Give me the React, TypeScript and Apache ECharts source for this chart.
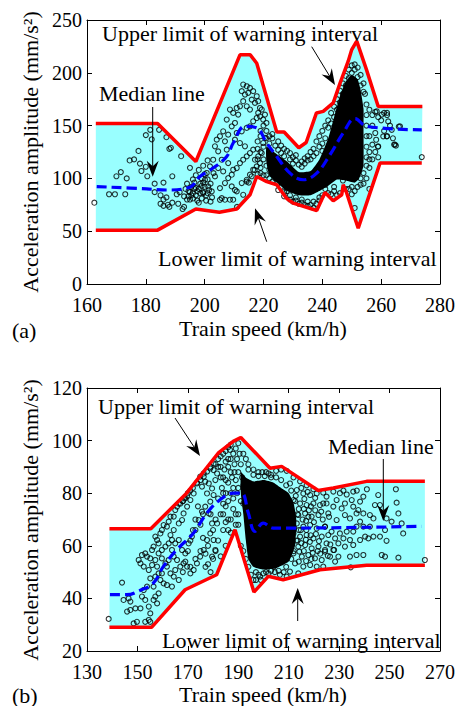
import React, { useEffect, useRef } from "react";
import * as echarts from "echarts";

// ---------- Panel (a) ----------
const xTicksA = [160, 180, 200, 220, 240, 260, 280];
const yTicksA = [0, 50, 100, 150, 200, 250];
const upperA: number[][] = [[163,152],[184,152],[197,116],[212,217],[215.5,217],[217.7,209],[224.5,144],[227,144],[232,129],[234.5,134],[238,162],[240.3,163.5],[243.7,171.5],[246,190],[248.8,211],[250,222],[251.7,230],[255,203],[259,168],[274,168]];
const lowerA: number[][] = [[163,51],[184,51],[197,71],[205,68],[210.9,71],[215.4,84.5],[217.7,101.8],[221.1,97],[224.5,94],[227.9,81],[230.1,76.6],[238.1,69.6],[240.9,86.7],[243.7,78.8],[246.6,84.5],[247.1,94],[248.3,86],[250.5,67],[252.2,52.9],[259.6,114.5],[273.8,114.5]];
const medianA: number[][] = [[163.3,92.3],[180.3,90],[187,89],[195,91.7],[198.4,101.8],[203,110],[207.5,120.8],[209.7,133.5],[213.7,149.3],[217.7,147.8],[221.1,133.5],[224.5,120.8],[229,105],[233.5,98.7],[238.1,105],[242.6,122.4],[247.1,143],[251.1,156.6],[255.1,149.3],[273.8,146]];
const coreA: number[][] = [[221,130],[224,124],[228,116],[232,106],[236,107],[239,118],[242,138],[244,158],[246,178],[248,192],[250,198],[252,194],[253,184],[254,166],[254,148],[254,112],[252.5,100],[251,96],[248,98],[245,99],[242,93],[239,88],[236,84],[232,84],[228,88],[225,95],[222,103],[221,115]];
const pointsA: number[][] = [
[162.5,77],[167.5,85],[169.5,85],[173,85],[170,102],[171.5,106],[173.5,100],[174.5,117],[176,118],[177.5,126],[178,114],[178.5,107],[180,111],[180.5,102],[181.5,146],[180,141],[182,137],[184.5,146],[187,139],[188,128],[188.5,129],[183,95],[183,87],[186,96],[185,84],[186,80],[185,76],[186,74],[187.5,75],[187,82],[189,102],[190.5,85],[191.5,87],[193,83],[194,80],[193,73],[192.5,71],[192,121],[195,110],[188,73],[189,77],[191,76],
[194.5,88],[195.5,92],[196,86],[197,84],[198,90],[198.5,95],[199,81],[199.5,87],[200,92],[200.5,84],[201,99],[196.5,96],[197.5,79],[195,80],[198,77],[199,100],[200,104],[201.5,89],[196,99],[197,103],[198,108],[199.5,112],[201,117],[202,95],[202.5,82],[203,105],[194,95],[193.5,90],[195.5,84],[197,91],[199,93],[200.5,79],[196,81],[198.5,86],[197.5,88],[196.5,90],[195,87],[199.5,96],[201,86],[202,78],[194.5,83],
[213.1,188.9],[214.3,187.3],[215.4,185.7],[214.8,181],[213.7,179.4],[216.5,182.6],[217.7,177.8],[216,174.6],[212.6,182.6],[217.1,171.5],[218.2,173.1],[218.8,166.7],[213.1,173.1],[212,168.3],[214.3,168.3],[215.4,165.2],[210.9,166.7],[209.7,162],[208.6,165.2],[211.4,160.4],[210.3,152.5],[209.2,149.3],[207.5,155.7],[206.3,144.6],[205.2,139.9],[204.1,136.7],[206.9,135.1],[208,141.4],[203.5,130.4],[204.6,125.6],[205.8,117.7],[202.9,117.7],[201.8,111.4],[200.7,105.1],[200.1,98.7],[201.2,92.4],[199.5,86.1],[202.4,87.7],[205.2,90.8],[206.9,95.6],[208,100.3],[209.2,103.5],[209.7,108.2],[210.9,109.8],[212,114.5],[213.1,117.7],[214.3,120.9],[215.4,124],[216.5,127.2],[213.7,130.4],[212,133.5],[210.3,136.7],[210.9,143],[212.6,144.6],[214.3,147.8],[215.4,149.3],[216.5,154.1],[217.7,157.2],[218.8,158.8],[219.9,155.7],[221,152.5],[218.2,162],[219.4,165.2],[220.5,160.4],[205.8,81.3],[208.6,79.8],[209.2,92.4],[210.9,87.7],[212.6,95.6],[214.3,98.7],[215.4,103.5],[216.5,108.2],[217.7,111.4],[218.8,114.5],[217.1,117.7],[218.2,120.9],[219.4,124],[219.9,133.5],[220.5,138.3],[207.5,127.2],[206.3,106.6],[208,114.5],[203.5,101.9],[204.6,109.8],[206.9,79.8],[209.7,79.8],[213.1,84.5],[214.3,97],[215,96],[211,73],[205.2,79.7],[210.3,89],
[221,145],[222,140],[223,138],[225,135],[226,131],[227,128],[229,124],[230,120],[231,117],[233,116],[234,119],[235,121],[236,125],[237,128],[238,135],[239,140],[240,145],[241,150],[242,155],[243,162],[244,168],[245,175],[246,183],[247,190],[248,197],[249,203],[250,207],[251,208],[252,205],[253,198],[254,190],[254.5,180],[255,170],[256,165],[257,160],[258,163],[259,158],[260,155],[261,162],[262,160],[263,150],[261,145],[262,140],[264,138],[265,131],[266,149],[257,150],[258,143],[256,140],[257,132],[258,125],[257,118],[259,120],[256,110],[255,100],[256,90],[254,95],[253,100],[252,92],[251,72],[250,85],[249,90],[246,86],[245,84],[244,88],[243,85],[242,86],[241,90],[240,84],[239,82],[238,76],[237,72],[236,75],[235,78],[234,75],[233,80],[232,76],[231,82],[230,78],[229,84],[228,88],[227,87],[226,92],[225,96],[224,100],[223,104],[222,108],[221,112],[220,118],[219,125],[220,130],[218,135],[219,140],
[219,145],[220,150],[221,138],[222,133],[223,142],[224,131],[225,127],[226,124],[227,121],[228,126],[229,118],[230,114],[231,122],[232,113],[233,111],[234,114],[235,117],[236,118],[237,121],[238,124],[239,130],[240,133],[241,138],[240,126],[242,148],[243,152],[244,158],[245,165],[246,172],[247,180],[248,188],[249,195],[250,200],[251,203],[252,196],[253,188],[254,182],[255,160],[255,150],[255,140],[255,130],[255,120],[256,125],[256,118],[255,112],[254,105],[253,94],[251,88],[250,92],[248,90],[247,98],[244,92],[241,94],[239,79],[237,78],[235,74],[233,77],[231,79],[229,80],[227,83],[225,89],[223,97],[221,103],[219,110],[218,118],[218,128],[219,105],[220,103],[222,100],[218,104],[217,108],[216,102],
[258.5,163.5],[260.2,160.4],[262,162],[262.4,154],[263.6,146],[264.4,132],[266.4,149.3],[259,130.3],[258.3,136.6],[260.7,139.8],[261.9,139.8],[273.8,120.2],[264.7,132],[258.9,130]
];

// ---------- Panel (b) ----------
const xTicksB = [130, 150, 170, 190, 210, 230, 250, 270];
const yTicksB = [20, 40, 60, 80, 100, 120];
const upperB: number[][] = [[138.9,66.5],[155.3,66.5],[169.5,80],[182,95.2],[188,99.7],[191,101.2],[202.6,89.5],[207.2,90.2],[221.7,81],[227.7,82],[240.9,84.5],[264,84.5]];
const lowerB: number[][] = [[138.9,29],[155.6,29],[168.9,43.3],[181.4,49],[188.7,66.1],[196.2,42.4],[201.9,48.4],[207.8,47.1],[222.4,50.9],[240.9,52.6],[264,52.6]];
const medianB: number[][] = [[139.1,41.4],[145.7,41.4],[151,43],[156.3,45.8],[160.3,52.2],[165.6,58.5],[172.2,64.8],[177.5,72.4],[182.8,77.5],[188,80],[191.3,80],[194,72.4],[196.6,65.5],[199.9,68.6],[203.9,66.7],[262.7,67.4]];
const coreB: number[][] = [[191,88],[193,86],[196,84.5],[200,85],[204,84],[207,82],[210,80],[212,76],[213,70],[212.5,60],[210,54],[205,51.5],[200,51],[196,52],[194,55],[193,62],[192,72],[191,80]];
const pointsB: number[][] = [
[138.6,32.2],[143.9,46],[144.5,39.4],[146.5,40],[147.2,38.8],[145.9,35],[147.2,35.6],[149.2,36.2],[149.8,31.1],[148.5,30.5],[151.2,36.2],[151.8,40.7],[152.5,43.2],[153.8,44.5],[153.1,39.4],[154.5,36.9],[155.1,34.3],[154.5,31.8],[153.1,31.1],[155.1,31.1],[156.4,39.4],[157.1,40.7],[157.8,38.1],[158.4,41.9],[156.4,44.5],[159.1,47],[159.7,49.5],[160.4,45.7],[158.4,49.5],[157.1,48.3],[155.1,47.6],[154.5,50.8],[152.5,52.1],[151.2,53.3],[150.5,54.6],[151.8,56.5],[153.1,57.1],[153.8,55.9],[155.1,55.2],[155.8,58.4],[156.4,59.7],[157.8,62.2],[157.1,63.5],[158.4,60.9],[159.1,64.7],[159.7,66],[160.4,67.9],[161.7,67.3],[162.4,69.2],[163.1,71.1],[164.4,71.1],[165,73.6],[165.7,74.9],[166.4,76],
[167,76],[168,77],[169,78],[170,80],[171,81],[172,82],[173.6,84],[175,85],[176.3,86.3],[176.9,84.4],[175.6,82.5],[177.6,79.9],[178.9,76.8],[180.2,79.3],[179.6,81.8],[178.3,83.7],[180.9,85],[181.6,87.5],[180.2,88.8],[177.6,88.2],[179,90],[181,91],[182,93],[183,94],[184,95],[185,96],[186,97.5],[187,98.5],[174.9,86.3],[176.3,87.5],[178.9,89.4],[180.2,91.3],[169.7,79],[168.6,78],[168.1,77],
[173.6,83.7],[172.3,79.9],[171,77.4],[169.7,74.9],[168.3,72.3],[167.7,69.8],[166.4,68.5],[164.4,66],[163.1,64.1],[163.7,62.2],[165,60.9],[166.4,62.2],[167.7,58.4],[169,57.1],[170.3,60.9],[171.6,63.5],[173,66],[174.3,69.8],[175.6,73],[176.9,74.9],[178.3,72.3],[179.6,68.5],[178.9,64.7],[177.6,62.2],[176.3,58.4],[174.9,55.9],[173.6,53.3],[172.3,50.8],[171,49.5],[169.7,52.1],[168.3,53.3],[167,52.1],[165.7,54.6],[164.4,55.9],[162.4,54.6],[161.1,53.3],[159.7,55.2],[161.7,52.1],[163.1,49.5],[164.4,48.3],[165,50.8],[166.4,47],[163.7,44.5],[161.7,45.1],[161.1,59.7],[162.4,60.9],[163.7,58.4],[159.7,58.4],[158.4,57.1],[157.1,54.6],[155.8,52.7],[157.8,52.1],[180.2,62.2],[180.9,58.4],[179.6,55.9],[181.6,68.5],
[182,90],[183,86],[184,80],[185,75],[186,70],[187,65],[183,72],[184,66],[185,60],[182,62],[181,58],[180,55],[183,56],[186,93],[187,88],[188,82],[185,85],[182,78],[181,70],[180,66],[179,72],[178,60],[177,57],[176,63],[175,68],[176,72],[174,75],[173,70],[172,66],[171,62],[170,58],[169,54],[168,50],[171,52],[173,55],[175,58],[177,52],[179,50],[178,53],[189,72],[190,68],[191,60],[192,58],[193,55],[186.7,96.5],[184.5,89],[183.5,82],[188.5,88],
[186,90],[187,93],[188,95],[189,97],[190,99],[189.5,93],[190.5,95],[191,91],[188.5,91],[187.5,86],[189,85],[190,88],[191.5,86],[192,83],[190,82],[188,78],[189.5,80],[186,84],[185,80],[184,86],[183,90],[185,92],[184,76],[186,77],[187,80],[188,74],[187,70],[186,66],[185,69],[184,72],[189,68],[190,72],[191,77],[192,76],
[194,52],[195,49],[196,47],[197,50],[198,49],[200,49.5],[201,50],[203,50.5],[204,52],[206,50.5],[208,50],[209,52],[211,55],[212,58],[213.5,62],[214,66],[213.5,72],[212.5,77],[211,81],[209,83],[207,85],[205,86],[203,87],[201,88],[198,88],[196,89],[194,91],[193,93],[192,95],
[197,47],[199,47],[202,49.5],[204.5,50],[206.5,49],[199.5,88],[202,87.5],[205,88.5],[207,89],[203,86],[196,87],[194,89],[198,86.5],[209.2,88.5],[200.5,86.5],
[211.9,86],[214.5,84.5],[217.1,83],[219.8,81.5],[210.5,83.7],[213.2,81.2],[215.8,79.9],[218.5,79.3],[221.1,79.9],[223.7,80.2],[211.9,77.4],[214.5,76.1],[217.1,75.5],[219.8,76.1],[222.4,75.5],[225,76.1],[211.2,73],[213.8,71.7],[216.5,72.3],[219.1,71.1],[221.8,71.7],[210.5,69.2],[213.2,68.5],[215.8,67.3],[218.5,67.9],[221.1,66.6],[224.4,67.3],[211.9,64.7],[214.5,63.5],[217.1,64.1],[219.8,62.8],[223.1,63.5],[225.7,64.1],[211.2,60.9],[213.8,59.7],[216.5,60.3],[219.1,59],[221.8,59.7],[224.4,58.4],[211.9,57.1],[215.2,55.9],[217.8,56.5],[220.4,55.2],[223.1,54.6],[212.5,53.3],[215.8,52.1],[218.5,52.7],[221.1,52.1],[210.5,50.2],[213.8,49.5],[209.2,48.3],[198.6,48.3],[223.7,52.1],
[212.8,79],[216.2,77.8],[220.5,78.2],[214,74],[218,73.5],[222.9,73],[226,71],[212.2,66.8],[216.9,69.5],[220,69],[223.5,70],[213,62],[218.4,61.5],[222,61.8],[226.5,60.5],[214.2,57.8],[219.5,57.3],[225.5,56.2],[216.9,54.2],[222.5,57],[228,58.4],
[215,82],[216,74],[215.5,70],[217,66],[215,61],[216,58],[214,54],[217.5,80.5],[218.8,75],[217.8,71],[218.7,64],[219,55],[220.5,73.5],[220.8,64.5],[221.5,58],[214.8,66],[216.8,62.3],
[252.5,81.5],[245.5,79.3],[252.8,76.4],[244.2,75.5],[253.5,72.3],[254.8,68.5],[255.4,64.7],[248.8,61.9],[248.2,66],[246.2,63.5],[243.6,63.5],[241.6,62.8],[240.3,63.5],[239.6,78.7],[238.3,76.8],[235.6,80.6],[235,77.4],[231.7,81],[230.3,80],[227.7,80.6],[232.3,76.1],[235.6,74.9],[237.6,73.6],[239.6,72.3],[242.2,71.7],[243.6,70.4],[242.2,67.3],[239.6,67.3],[238.3,69.2],[236.9,67.3],[235.6,65.4],[233,65.4],[230.3,64.7],[234.3,62.2],[235.6,60.3],[232.3,59.7],[229.7,60.9],[227.7,58.4],[226.4,55.9],[229.7,55.9],[234.3,55.9],[236.9,56.5],[239.6,56.5],[246.9,56.5],[248.2,55.9],[253.5,55.5],[264,54.6],[234.6,51.8],[225,60.9],[224.4,67.3],[225.7,72.3],[223.7,76.1],[225,78.7],[229,77.4],[232.3,71.7],[234.3,70.4],[229,69.8],[227.7,74.9],[231,74.2],[236.9,72.3],[248.8,70.4],[246.2,75.5],[250.8,69.2],[227,65.4],[228.4,62.8],[231.7,62.8],[238.3,62.2],[224.4,57.8],[228.4,54],[241,81.5],[237,81],[233,79.5]
];

const FAMILY = "Liberation Serif";

function bandSeries(xi: number, upper: number[][], lower: number[][], fill: string, z: number) {
  const poly = upper.concat(lower.slice().reverse());
  return {
    type: "custom", xAxisIndex: xi, yAxisIndex: xi, z, silent: true,
    data: [poly[0]],
    renderItem: (params: any, api: any) => ({
      type: "polygon",
      shape: { points: poly.map((p) => api.coord(p)) },
      style: { fill },
    }),
  };
}

function polySeries(xi: number, poly: number[][], fill: string, z: number) {
  return {
    type: "custom", xAxisIndex: xi, yAxisIndex: xi, z, silent: true,
    data: [poly[0]],
    renderItem: (params: any, api: any) => ({
      type: "polygon",
      shape: { points: poly.map((p) => api.coord(p)), smooth: 0.15 },
      style: { fill },
    }),
  };
}

function arrow(x1: number, y1: number, x2: number, y2: number, len = 16, half = 6) {
  const dx = x2 - x1, dy = y2 - y1, L = Math.hypot(dx, dy);
  const ux = dx / L, uy = dy / L, px = -uy, py = ux;
  const bx = x2 - ux * len, by = y2 - uy * len;
  const nx = x2 - ux * len * 0.65, ny = y2 - uy * len * 0.65;
  return [
    { type: "line", z: 100, shape: { x1, y1, x2: nx, y2: ny }, style: { stroke: "#000", lineWidth: 1 } },
    { type: "polygon", z: 100, shape: { points: [[x2, y2], [bx + px * half, by + py * half], [nx, ny], [bx - px * half, by - py * half]] }, style: { fill: "#000" } },
  ];
}

function txt(text: string, x: number, y: number, align = "left", rotation = 0, size = 22) {
  return { type: "text", z: 100, x, y, rotation, style: { text, font: `${size}px "${FAMILY}", serif`, fill: "#000", align, verticalAlign: "middle" } };
}

function axisBase(min: number, max: number, interval: number, gridIndex: number, position: string, labels: boolean) {
  return {
    type: "value", gridIndex, min, max, interval, position,
    axisLine: { show: true, onZero: false, lineStyle: { color: "#000", width: 1 } },
    axisTick: { show: true, inside: true, length: 5, lineStyle: { color: "#000", width: 1 } },
    axisLabel: { show: labels, color: "#000", fontFamily: FAMILY, fontSize: 20, lineHeight: 20, margin: position === "bottom" ? 11 : 5 },
    splitLine: { show: false },
  };
}

export default function App() {
  const ref = useRef<HTMLDivElement>(null);
  useEffect(() => {
    document.body.style.margin = "0";
    const chart = echarts.init(ref.current!, null, { renderer: "svg" });
    const scatterStyle = { color: "rgba(0,0,0,0)", borderColor: "#000", borderWidth: 1.1 };
    const redLine = { color: "#ff0000", width: 3.5 };
    const blueLine = { color: "#0000ff", width: 3.2, type: [10, 5] };
    chart.setOption({
      animation: false,
      backgroundColor: "#fff",
      grid: [
        { left: 87, top: 20, width: 353, height: 264, containLabel: false },
        { left: 87, top: 388, width: 353, height: 263, containLabel: false },
      ],
      xAxis: [
        axisBase(xTicksA[0], xTicksA[xTicksA.length - 1], 20, 0, "bottom", true),
        axisBase(xTicksA[0], xTicksA[xTicksA.length - 1], 20, 0, "top", false),
        axisBase(xTicksB[0], xTicksB[xTicksB.length - 1], 20, 1, "bottom", true),
        axisBase(xTicksB[0], xTicksB[xTicksB.length - 1], 20, 1, "top", false),
      ],
      yAxis: [
        axisBase(yTicksA[0], yTicksA[yTicksA.length - 1], 50, 0, "left", true),
        axisBase(yTicksA[0], yTicksA[yTicksA.length - 1], 50, 0, "right", false),
        axisBase(yTicksB[0], yTicksB[yTicksB.length - 1], 20, 1, "left", true),
        axisBase(yTicksB[0], yTicksB[yTicksB.length - 1], 20, 1, "right", false),
      ],
      series: [
        bandSeries(0, upperA, lowerA, "#99ffff", 1),
        { type: "scatter", xAxisIndex: 0, yAxisIndex: 0, z: 2, symbol: "circle", symbolSize: 5, itemStyle: scatterStyle, data: pointsA, silent: true },
        polySeries(0, coreA, "#000", 3),
        { type: "line", xAxisIndex: 0, yAxisIndex: 0, z: 4, data: medianA, symbol: "none", smooth: 0.4, lineStyle: blueLine, silent: true },
        { type: "line", xAxisIndex: 0, yAxisIndex: 0, z: 5, data: upperA, symbol: "none", lineStyle: redLine, silent: true },
        { type: "line", xAxisIndex: 0, yAxisIndex: 0, z: 5, data: lowerA, symbol: "none", lineStyle: redLine, silent: true },

        bandSeries(2, upperB, lowerB, "#99ffff", 1),
        { type: "scatter", xAxisIndex: 2, yAxisIndex: 2, z: 2, symbol: "circle", symbolSize: 5, itemStyle: scatterStyle, data: pointsB, silent: true },
        polySeries(2, coreB, "#000", 3),
        { type: "line", xAxisIndex: 2, yAxisIndex: 2, z: 4, data: medianB, symbol: "none", smooth: 0.4, lineStyle: blueLine, silent: true },
        { type: "line", xAxisIndex: 2, yAxisIndex: 2, z: 5, data: upperB, symbol: "none", lineStyle: redLine, silent: true },
        { type: "line", xAxisIndex: 2, yAxisIndex: 2, z: 5, data: lowerB, symbol: "none", lineStyle: redLine, silent: true },
      ],
      graphic: [
        txt("Acceleration amplitude (mm/s²)", 30, 152, "center", Math.PI / 2),
        txt("Train speed (km/h)", 263, 328, "center"),
        txt("(a)", 12, 330, "left"),
        txt("Upper limit of warning interval", 102, 33, "left"),
        txt("Median line", 99, 93, "left"),
        txt("Lower limit of warning interval", 158, 258, "left"),
        ...arrow(311.7, 46.7, 335, 85),
        ...arrow(152.7, 107, 152.7, 176.7),
        ...arrow(266.7, 241.7, 255, 208.3),

        txt("Acceleration amplitude (mm/s²)", 30, 520, "center", Math.PI / 2),
        txt("Train speed (km/h)", 263, 694, "center"),
        txt("(b)", 12, 695, "left"),
        txt("Upper limit of warning interval", 98, 406, "left"),
        txt("Median line", 328, 446, "left"),
        txt("Lower limit of warning interval", 162, 640, "left"),
        ...arrow(175, 418, 200, 456),
        ...arrow(383.3, 459, 383.3, 521),
        ...arrow(297.7, 621, 297.7, 588),
      ],
    });
    return () => chart.dispose();
  }, []);
  return <div ref={ref} style={{ width: 459, height: 706 }} />;
}
